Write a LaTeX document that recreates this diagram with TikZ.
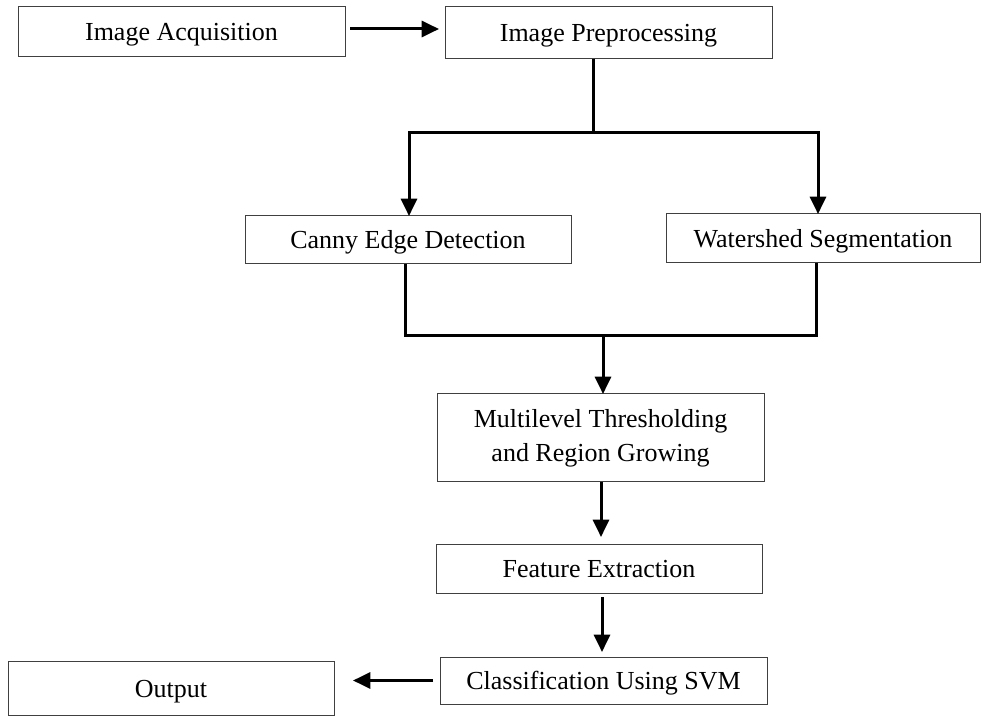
\documentclass[tikz,border=0pt]{standalone}
\usepackage{fontspec}
\setmainfont{Liberation Serif}
\usetikzlibrary{arrows.meta}

\begin{document}
\begin{tikzpicture}[x=0.75pt, y=-0.75pt,
  stage/.style={draw=black!75, line width=0.75pt, inner sep=0pt, outer sep=0pt,
    align=center, font=\fontsize{19.5}{25.5}\selectfont},
  oneline/.style={stage, text height=18pt, text depth=4.5pt},
  flow/.style={line width=2.25pt},
  arr/.style={flow, -{Triangle[length=13pt, width=12pt]}}]
\useasboundingbox (0,0) rectangle (982,716);
\node[oneline, minimum width=245.25pt, minimum height=37.5pt] (acq) at (181.5,32) {Image Acquisition};
\node[oneline, minimum width=245.25pt, minimum height=39pt] (pre) at (608.5,33) {Image Preprocessing};
\node[oneline, minimum width=244.5pt, minimum height=36pt] (canny) at (408,240) {Canny Edge Detection};
\node[oneline, minimum width=235.5pt, minimum height=36.75pt] (water) at (823,238.5) {Watershed Segmentation};
\node[stage, minimum width=245.25pt, minimum height=66pt] (multi) at (600.5,438) {Multilevel Thresholding\\and Region Growing};
\node[oneline, minimum width=244.5pt, minimum height=36.75pt] (feat) at (599,568.5) {Feature Extraction};
\node[oneline, minimum width=245.25pt, minimum height=35.25pt] (svm) at (603.5,680.5) {Classification Using SVM};
\node[oneline, minimum width=244.5pt, minimum height=40.5pt] (out) at (171,688) {Output};
\coordinate (split) at (593,133);
\coordinate (join) at (603,336);
% top row
\draw[arr, shorten <=3.75pt, shorten >=4.5pt] ([yshift=2.25pt]acq.east) -- ([yshift=2.25pt]acq.east -| pre.west);
% branches
\draw[flow] (pre.south -| split) -- (split);
\draw[arr] (split) -| ([xshift=0.75pt]canny.north);
\draw[arr] (split) -| ([xshift=-3.75pt]water.north);
\draw[flow] ([xshift=-2.25pt]canny.south) |- (join);
\draw[flow] ([xshift=-5.25pt]water.south) |- (join);
\draw[arr] (join) -- (join |- multi.north);
% lower column
\draw[arr, shorten >=5.25pt] ([xshift=0.375pt]multi.south) -- ([xshift=0.375pt]multi.south |- feat.north);
\draw[arr, shorten <=3pt, shorten >=3.75pt] ([xshift=2.25pt]feat.south) -- ([xshift=2.25pt]feat.south |- svm.north);
\draw[arr, shorten <=5.25pt, shorten >=14.25pt] (svm.west) -- (svm.west -| out.east);
\end{tikzpicture}
\end{document}
